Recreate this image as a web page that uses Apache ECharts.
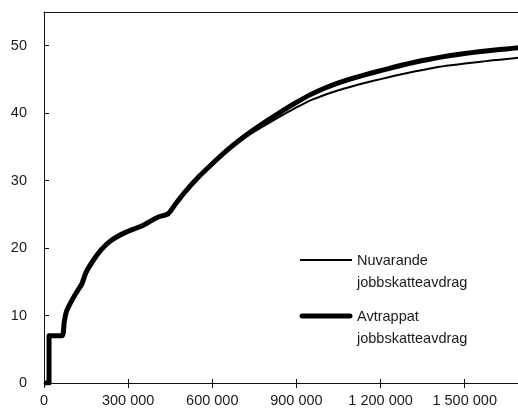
<!DOCTYPE html>
<html>
<head>
<meta charset="utf-8">
<script src="https://cdn.jsdelivr.net/npm/echarts@6/dist/echarts.min.js"></script>
<style>html,body{margin:0;padding:0;background:#fff}#c{width:518px;height:416px}</style>
</head>
<body>
<div id="c"></div>
<script>
var xValues = [0, 18000, 18000, 64000, 72000, 80000, 100000, 120000, 135000, 150000, 176000, 205000, 235000, 265000, 295000, 325000, 354000, 380000, 407000, 443000, 470000, 500000, 550000, 600000, 650000, 700000, 750000, 800000, 850000, 900000, 950000, 1000000, 1050000, 1100000, 1150000, 1200000, 1250000, 1300000, 1350000, 1400000, 1450000, 1500000, 1550000, 1600000, 1650000, 1690000];
var avtrappat = [0, 0, 7, 7, 9.0, 10.6, 12.3, 13.7, 14.7, 16.4, 18.2, 19.8, 21.0, 21.8, 22.4, 22.9, 23.4, 24.0, 24.6, 25.1, 26.6, 28.2, 30.5, 32.5, 34.4, 36.1, 37.6, 39.0, 40.35, 41.6, 42.75, 43.7, 44.5, 45.15, 45.75, 46.3, 46.85, 47.35, 47.8, 48.2, 48.55, 48.85, 49.1, 49.33, 49.53, 49.7];
var nuvarande = [0, 0, 7, 7, 9.0, 10.6, 12.3, 13.7, 14.7, 16.4, 18.2, 19.8, 21.0, 21.8, 22.4, 22.9, 23.4, 24.0, 24.6, 25.1, 26.6, 28.2, 30.5, 32.5, 34.35, 35.95, 37.3, 38.5, 39.7, 40.85, 41.9, 42.7, 43.4, 44.0, 44.55, 45.05, 45.55, 46.0, 46.4, 46.8, 47.1, 47.35, 47.6, 47.83, 48.03, 48.2];
var xTicks = [0, 300000, 600000, 900000, 1200000, 1500000];
var xTickLabels = ['0', '300 000', '600 000', '900 000', '1 200 000', '1 500 000'];
var yTicks = [0, 10, 20, 30, 40, 50];
var yTickLabels = ['0', '10', '20', '30', '40', '50'];
var seriesNames = ['Nuvarande\njobbskatteavdrag', 'Avtrappat\njobbskatteavdrag'];

var TXT = '#1a1a1a';
function pairs(xs, ys){ return xs.map(function(x,i){ return [x, ys[i]]; }); }

var chart = echarts.init(document.getElementById('c'), null, {renderer:'canvas'});
var baseX = {type:'value', min:0, max:1690000, interval:300000, splitLine:{show:false}};
chart.setOption({
  animation:false,
  backgroundColor:'#fff',
  grid:{left:44, top:12, right:0, bottom:33, containLabel:false},
  xAxis:[
    Object.assign({}, baseX, {
      position:'bottom',
      axisLine:{show:true, lineStyle:{color:'#111', width:1}},
      axisTick:{show:true, inside:false, length:5, lineStyle:{color:'#111'}},
      axisLabel:{show:true, margin:10, fontFamily:'Liberation Sans', fontSize:14.5, color:TXT, showMaxLabel:false,
        formatter:function(v){ var i = xTicks.indexOf(v); return i>=0 ? xTickLabels[i] : ''; }}
    }),
    Object.assign({}, baseX, {
      position:'bottom',
      axisLine:{show:false},
      axisTick:{show:true, inside:true, length:4, lineStyle:{color:'#111'}},
      axisLabel:{show:false}
    }),
    Object.assign({}, baseX, {
      position:'top',
      axisLine:{show:true, lineStyle:{color:'#111', width:1}},
      axisTick:{show:false},
      axisLabel:{show:false}
    })
  ],
  yAxis:{type:'value', min:0, max:55, interval:10, splitLine:{show:false},
    axisLine:{show:true, lineStyle:{color:'#111', width:1}},
    axisTick:{show:true, inside:true, length:5, lineStyle:{color:'#111'}},
    axisLabel:{margin:17, fontFamily:'Liberation Sans', fontSize:14.5, color:TXT, showMaxLabel:false,
      formatter:function(v){ var i = yTicks.indexOf(v); return i>=0 ? yTickLabels[i] : ''; }}
  },
  series:[
    {name:seriesNames[1], type:'line', xAxisIndex:0, data:pairs(xValues, avtrappat), showSymbol:false, symbol:'none',
      smooth:0.25,
      lineStyle:{color:'#000', width:5, join:'round', cap:'butt'}, z:2},
    {name:seriesNames[0], type:'line', xAxisIndex:0, data:pairs(xValues, nuvarande), showSymbol:false, symbol:'none',
      smooth:0.25,
      lineStyle:{color:'#000', width:2, join:'round'}, z:3}
  ],
  graphic:[
    {type:'line', shape:{x1:300, y1:260, x2:352, y2:260}, style:{stroke:'#000', lineWidth:2}},
    {type:'text', left:357, top:250, style:{text:seriesNames[0], font:'14.5px "Liberation Sans"', fill:TXT, lineHeight:22}},
    {type:'line', shape:{x1:302, y1:316, x2:350, y2:316}, style:{stroke:'#000', lineWidth:5, lineCap:'round'}},
    {type:'text', left:357, top:306, style:{text:seriesNames[1], font:'14.5px "Liberation Sans"', fill:TXT, lineHeight:22}}
  ]
});
</script>
</body>
</html>
